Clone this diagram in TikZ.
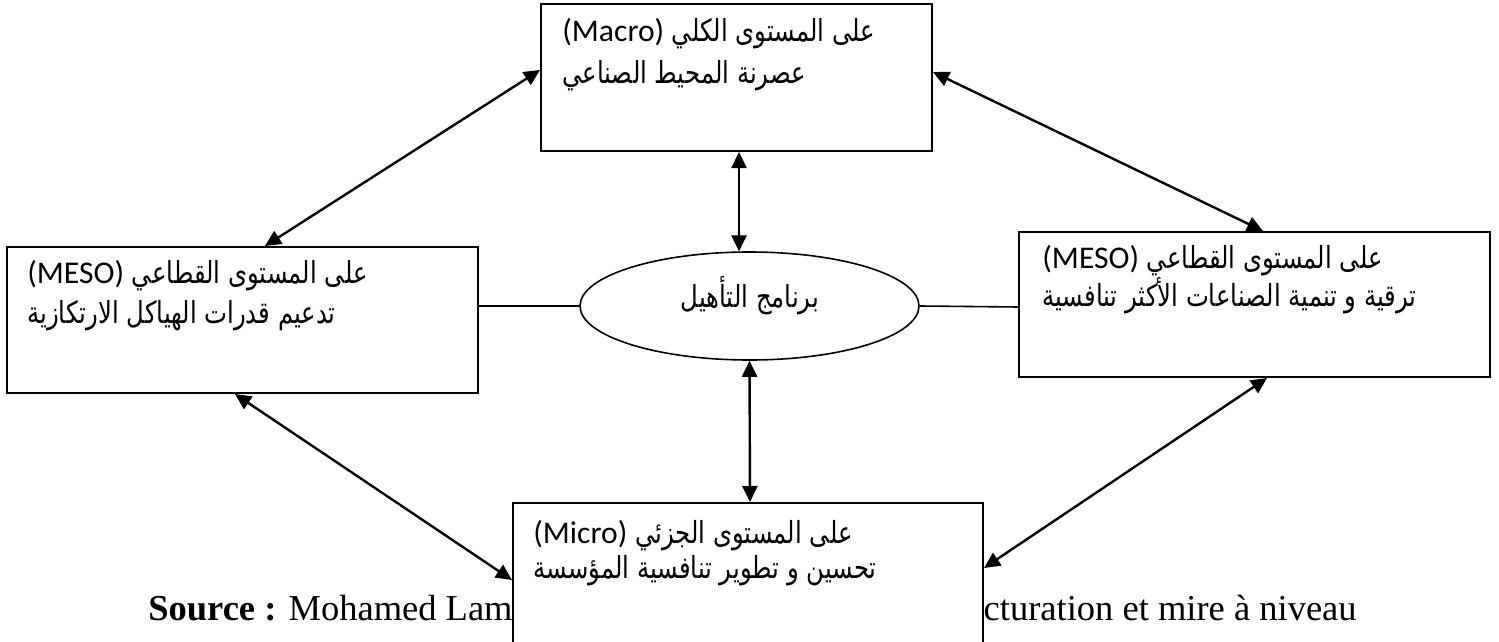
\documentclass[tikz,border=0pt]{standalone}
\usepackage{fontspec}
\setmainfont{Liberation Serif}
\newfontfamily\arabicfont[Script=Arabic,FakeStretch=0.8]{DejaVu Sans}
\newfontfamily\latinfont{Carlito}
\TeXXeTstate=1
\usetikzlibrary{arrows.meta,shapes.geometric,calc}
\newcommand\myArSize{\fontsize{15.2pt}{18pt}\selectfont}
\newcommand\myLaSize{\fontsize{15.8pt}{20pt}\selectfont}
\newcommand\mkline[2]{{\arabicfont\myArSize\beginR #1 {\latinfont\myLaSize\beginL(#2)\endL}\endR}}
\newcommand\mkar[1]{{\arabicfont\myArSize\beginR #1\endR}}
\begin{document}
\begin{tikzpicture}[x=0.5pt,y=-0.5pt,
  box/.style={draw, rectangle, line width=1pt, fill=white, inner sep=0pt},
  conn/.style={line width=1.2pt, {Triangle[length=8pt,width=7.5pt]}-{Triangle[length=8pt,width=7.5pt]}},
  plainline/.style={line width=0.8pt},
  lbl/.style={inner sep=0pt, anchor=base west},
  src/.style={inner sep=0pt, anchor=base west, font=\fontsize{18.25pt}{22pt}\selectfont}]
\clip (0,0) rectangle (1499,642);
\fill[white] (0,0) rectangle (1499,642);
\node[box, minimum width=195.5pt, minimum height=73.5pt] (macro) at (736.5,77.5) {};
\node[box, minimum width=235.5pt, minimum height=73pt] (lbox) at (242.5,320) {};
\node[box, minimum width=235.5pt, minimum height=72.5pt] (rbox) at (1254.5,304.5) {};
\node[src] (srcA) at (148,620) {\textbf{Source :} Mohamed Lam};
\node[src, anchor=base east] (srcB) at (1357,620) {cturation et mire à niveau};
\node[box, minimum width=235pt, minimum height=97pt] (micro) at (748,600) {};
\node[draw, ellipse, line width=0.8pt, minimum width=169.5pt, minimum height=54pt, inner sep=0pt] (prog) at (749.5,306) {};
\node[inner sep=0pt] (progt) at (750,296) {\mkar{برنامج التأهيل}};
\node[lbl] (ma) at (562,42) {\mkline{على المستوى الكلي}{Macro}};
\node[lbl] (mb) at (562,84) {\mkar{عصرنة المحيط الصناعي}};
\node[lbl] (la) at (27,283) {\mkline{على المستوى القطاعي}{MESO}};
\node[lbl] (lb) at (27,323) {\mkar{تدعيم قدرات الهياكل الارتكازية}};
\node[lbl] (ra) at (1042,268) {\mkline{على المستوى القطاعي}{MESO}};
\node[lbl] (rb) at (1042,306) {\mkar{ترقية و تنمية الصناعات الأكثر تنافسية}};
\node[lbl] (ua) at (533,543) {\mkline{على المستوى الجزئي}{Micro}};
\node[lbl] (ub) at (533,578) {\mkar{تحسين و تطوير تنافسية المؤسسة}};
\draw[conn] ($(macro.west)+(0,-7.5)$) -- ($(lbox.north)+(22.5,0)$);
\draw[conn] ($(macro.east)+(0,-5.5)$) -- ($(rbox.north)+(8.5,0)$);
\draw[conn] ($(macro.south)+(2.5,0)$) -- ($(prog.north)+(-10.5,0.2)$);
\draw[conn] (prog.south) -- ($(micro.north)+(2,0)$);
\draw[conn] ($(lbox.south)+(-7.5,0)$) -- ($(micro.west)+(0,-20)$);
\draw[conn] ($(rbox.south)+(12.5,0)$) -- ($(micro.east)+(0,-32)$);
\draw[plainline] ($(lbox.east)+(0,-14)$) -- (prog.west);
\draw[plainline] (prog.east) -- ($(rbox.west)+(0,2.5)$);
\end{tikzpicture}
\end{document}
